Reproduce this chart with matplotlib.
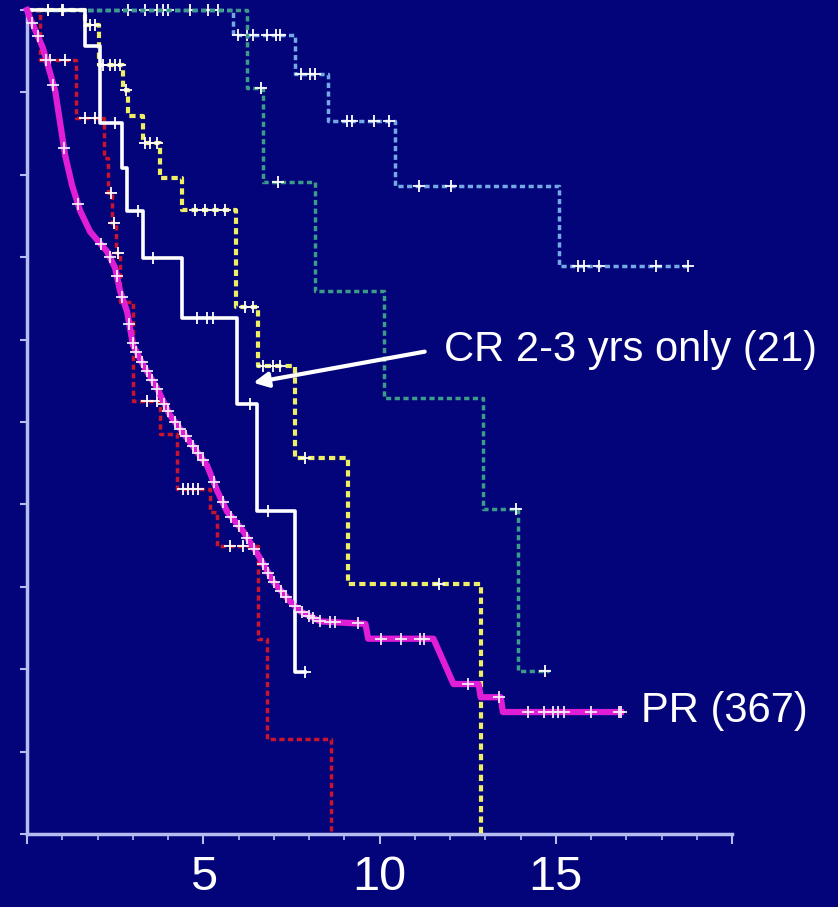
import numpy as np
import matplotlib
matplotlib.use('Agg')
import matplotlib.pyplot as plt
from matplotlib.ticker import MultipleLocator

plt.rcParams['font.family'] = ['Liberation Sans', 'DejaVu Sans']

# Kaplan-Meier step points (years, survival)
blue_t = [0, 5.85, 7.61, 8.55, 10.45, 15.09]
blue_s = [1.0, 0.970, 0.922, 0.865, 0.786, 0.689]
blue_end = 18.75
blue_cens = [0.6, 1.0, 2.87, 3.35, 3.69, 3.86, 4.01, 4.63, 5.14, 5.43,
             5.99, 6.25, 6.42, 6.82, 7.05, 7.19, 7.76, 8.04, 8.18,
             9.09, 9.23, 9.83, 10.26, 11.11, 12.02,
             15.63, 15.80, 16.22, 17.84, 18.75]

green_t = [0, 6.25, 6.70, 8.18, 10.14, 12.95, 13.92]
green_s = [1.0, 0.905, 0.791, 0.659, 0.529, 0.395, 0.198]
green_end = 14.8
green_cens = [6.65, 7.13, 13.88, 14.7]

yellow_t = [0, 1.65, 2.05, 2.73, 2.87, 3.30, 3.78, 4.40, 5.94, 6.56, 7.61, 9.12, 12.87]
yellow_s = [1.0, 0.982, 0.933, 0.903, 0.871, 0.838, 0.796, 0.757, 0.640, 0.568, 0.456, 0.304, 0.0]
yellow_end = 12.87
yellow_cens = [1.79, 1.93, 2.16, 2.36, 2.50, 2.64, 2.80, 3.35, 3.49, 3.69,
               4.77, 5.06, 5.34, 5.63, 6.19, 6.42, 6.70, 6.99, 7.19, 7.90, 11.68]

white_t = [0, 1.65, 2.07, 2.70, 2.84, 3.30, 4.40, 5.97, 6.53, 7.61]
white_s = [1.0, 0.956, 0.863, 0.808, 0.756, 0.699, 0.626, 0.522, 0.392, 0.197]
white_end = 7.90
white_cens = [0.6, 1.02, 2.5, 3.15, 3.58, 4.83, 5.11, 5.28, 6.34, 6.85, 7.90]

red_t = [0, 0.37, 1.39, 2.19, 2.30, 2.41, 2.53, 2.64, 3.01, 3.78, 4.26, 5.20, 5.40, 6.56, 6.82, 8.61]
red_s = [1.0, 0.939, 0.869, 0.820, 0.778, 0.741, 0.705, 0.646, 0.525, 0.486, 0.419,
         0.391, 0.349, 0.237, 0.115, 0.0]
red_end = 8.61
red_cens = [0.65, 1.08, 1.65, 1.93, 2.38, 2.48, 2.58, 3.41, 3.69,
            4.43, 4.57, 4.72, 4.86, 5.77, 6.14]

# PR group: many events, drawn as a line through the read points
mag_t = [0, 0.09, 0.45, 0.80, 1.08, 1.28, 1.51, 1.79, 2.27, 2.50, 2.64, 2.84, 3.01,
         3.30, 3.69, 4.06, 4.55, 5.11, 5.40, 5.68, 6.14, 6.62, 6.99, 7.47, 7.76,
         8.32, 9.60, 9.68, 11.53, 12.10, 12.81, 12.87, 13.44, 13.50, 16.85]
mag_s = [1.0, 0.990, 0.954, 0.902, 0.824, 0.787, 0.756, 0.731, 0.707, 0.687, 0.659,
         0.634, 0.593, 0.569, 0.541, 0.508, 0.480, 0.447, 0.416, 0.391, 0.367, 0.334,
         0.306, 0.282, 0.270, 0.258, 0.255, 0.237, 0.237, 0.182, 0.182, 0.166, 0.166,
         0.148, 0.148]
mag_cens = [0.15, 0.3, 0.55, 0.75, 1.05, 1.45, 2.1, 2.35, 2.55, 2.7, 2.9, 3.0, 3.1,
            3.25, 3.4, 3.55, 3.7, 3.9, 4.0, 4.2, 4.35, 4.5, 4.7, 4.85, 5.0, 5.3,
            5.55, 5.8, 6.0, 6.25, 6.45, 6.7, 6.85, 7.0, 7.2, 7.35, 7.6, 7.8, 8.0,
            8.1, 8.3, 8.6, 8.75, 9.4, 10.03, 10.6, 11.16, 11.25, 12.5, 13.38,
            14.2, 14.66, 14.91, 15.06, 15.23, 15.99, 16.79, 16.85]

x_ticks = [0, 5, 10, 15, 20]
x_labels = ['', '5', '10', '15', '']

bg = '#04047a'
axis_col = '#b4bcf0'

fig = plt.figure(figsize=(8.38, 9.07), dpi=100, facecolor=bg)
ax = fig.add_axes([27 / 838, 73 / 907, 705 / 838, 824 / 907], facecolor=bg)


def step_at(ts, ss, t):
    i = np.searchsorted(ts, t, side='right') - 1
    return np.asarray(ss)[i]


def km(ts, ss, end, cens, color, ls, lw, z):
    xs = list(ts) + [end]
    ys = list(ss) + [ss[-1]]
    ax.plot(xs, ys, drawstyle='steps-post', color=color, linestyle=ls,
            linewidth=lw, zorder=z, clip_on=False)
    cy = [step_at(ts, ss, c) for c in cens]
    ax.plot(cens, cy, linestyle='none', marker='+', markersize=9, mew=1.3,
            color='white', zorder=z + 0.5, clip_on=False)


dots = (0, (1.5, 1))
km(blue_t, blue_s, blue_end, blue_cens, '#74aae4', dots, 2.5, 2)
km(green_t, green_s, green_end, green_cens, '#3b9c88', dots, 2.5, 3)
km(yellow_t, yellow_s, yellow_end, yellow_cens, '#eeee66', dots, 3, 4)
km(red_t, red_s, red_end, red_cens, '#c8142c', dots, 2.5, 5)
km(white_t, white_s, white_end, white_cens, 'white', '-', 2.6, 6)

ax.plot(mag_t, mag_s, color='#e01ed6', linewidth=4.5, zorder=7, clip_on=False,
        solid_joinstyle='round')
ax.plot(mag_cens, np.interp(mag_cens, mag_t, mag_s), linestyle='none', marker='+',
        markersize=9, mew=1.3, color='#f4e8f8', zorder=7.5, clip_on=False)

ax.annotate('', xy=(6.34, 0.547), xytext=(11.36, 0.586),
            arrowprops=dict(arrowstyle='-|>', color='white', lw=3,
                            mutation_scale=22), zorder=9)
ax.text(11.82, 0.587, 'CR 2-3 yrs only (21)', color='white', fontsize=30,
        va='center', ha='left', zorder=9)
ax.text(17.41, 0.149, 'PR (367)', color='white', fontsize=30,
        va='center', ha='left', zorder=9)

ax.set_xlim(0, 20)
ax.set_ylim(0, 1.0)
ax.set_xticks(x_ticks)
ax.set_xticklabels(x_labels)
ax.xaxis.set_minor_locator(MultipleLocator(1))
ax.yaxis.set_major_locator(MultipleLocator(0.1))
ax.set_yticklabels([])
ax.tick_params(axis='x', which='major', length=7, width=1.5, color=axis_col,
               labelcolor='white', labelsize=35, pad=8)
ax.tick_params(axis='x', which='minor', length=4, width=1.2, color=axis_col)
ax.tick_params(axis='y', which='major', length=5, width=1.5, color=axis_col)

for side in ['top', 'right']:
    ax.spines[side].set_visible(False)
for side in ['left', 'bottom']:
    ax.spines[side].set_color(axis_col)
    ax.spines[side].set_linewidth(2.5)

fig.savefig('out.png', dpi=100, facecolor=bg)
